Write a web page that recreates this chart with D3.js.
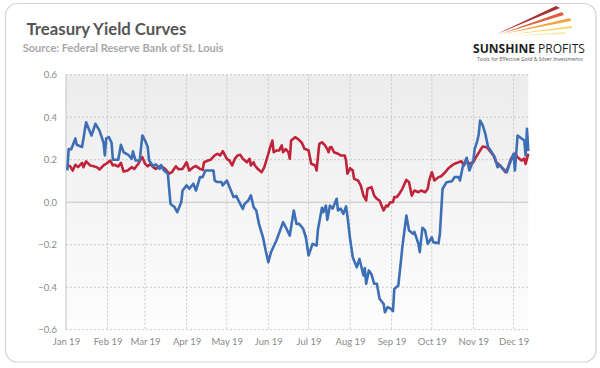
<!DOCTYPE html>
<html>
<head>
<meta charset="utf-8">
<script src="https://cdn.jsdelivr.net/npm/d3@7"></script>
<style>
  html, body { margin: 0; padding: 0; background: #ffffff; }
  svg { display: block; }
</style>
</head>
<body>
<div id="chart"></div>
<script>
// ---------- DATA ----------
const chartTitle = "Treasury Yield Curves";
const chartSource = "Source: Federal Reserve Bank of St. Louis";
const yTicks = [-0.6, -0.4, -0.2, 0.0, 0.2, 0.4, 0.6];

const blueDates = ["01-02","01-03","01-05","01-08","01-09","01-13","01-16","01-20","01-23","01-26","01-29","01-30","01-31",
"02-02","02-04","02-05","02-09","02-11","02-13","02-15","02-17","02-19","02-20","02-21","02-22","02-25","02-27",
"03-01","03-03","03-04","03-07","03-09","03-12","03-13","03-15","03-18","03-19","03-20","03-23","03-25","03-28","03-29",
"04-01","04-03","04-06","04-08","04-11","04-13","04-15","04-21","04-22","04-24","04-27","04-28",
"05-01","05-03","05-06","05-08","05-11","05-13","05-14","05-17","05-19","05-21","05-23","05-25","05-28","05-30",
"06-01","06-03","06-07","06-12","06-14","06-17","06-20","06-22","06-24","06-27","06-29",
"07-01","07-04","07-07","07-08","07-11","07-12","07-14","07-15","07-17","07-19","07-22","07-23","07-25","07-27","07-29","07-30",
"08-01","08-03","08-06","08-08","08-11","08-12","08-13","08-15","08-17","08-19","08-21","08-23","08-26","08-27","08-29","08-31",
"09-02","09-03","09-06","09-08","09-09","09-12","09-14","09-17","09-18","09-21","09-22","09-24","09-26","09-28",
"10-01","10-02","10-06","10-07","10-09","10-12","10-16","10-18","10-21","10-22","10-24","10-27","10-28","10-29",
"11-01","11-02","11-04","11-05","11-06","11-08","11-10","11-12","11-14","11-17","11-19","11-21","11-23","11-26","11-28",
"12-01","12-02","12-04","12-07","12-09","12-10","12-11","12-12"];
const blueValues = [0.15,0.25,0.25,0.30,0.27,0.26,0.376,0.314,0.369,0.337,0.28,0.22,0.30,
0.306,0.28,0.20,0.20,0.27,0.235,0.228,0.22,0.204,0.24,0.215,0.196,0.196,0.314,
0.29,0.26,0.196,0.17,0.178,0.157,0.175,0.15,0.134,0.063,-0.008,-0.023,-0.047,0.0,0.055,
0.079,0.063,0.087,0.055,0.118,0.118,0.149,0.149,0.102,0.095,0.095,0.079,
0.102,0.071,0.024,0.03,-0.008,-0.031,-0.01,0.008,0.032,-0.023,-0.039,-0.102,-0.165,-0.227,
-0.282,-0.235,-0.18,-0.094,-0.118,-0.157,-0.039,-0.102,-0.102,-0.125,-0.165,
-0.251,-0.196,-0.204,-0.13,-0.026,-0.047,-0.016,-0.083,-0.016,-0.03,0.016,-0.039,-0.03,-0.055,-0.02,-0.063,
-0.172,-0.259,-0.306,-0.267,-0.345,-0.31,-0.384,-0.321,-0.34,-0.384,-0.384,-0.455,-0.478,-0.518,-0.494,-0.5,
-0.513,-0.408,-0.392,-0.274,-0.212,-0.063,-0.133,-0.149,-0.14,-0.196,-0.235,-0.12,-0.133,-0.196,
-0.165,-0.188,-0.193,-0.15,0.063,0.094,0.099,0.118,0.118,0.102,0.165,0.209,0.18,0.149,
0.196,0.251,0.29,0.32,0.384,0.361,0.32,0.259,0.243,0.212,0.165,0.173,0.157,0.141,0.18,
0.228,0.149,0.314,0.30,0.29,0.22,0.345,0.24];

const redDates = ["01-02","01-04","01-06","01-08","01-10","01-13","01-14","01-16","01-19","01-21","01-24","01-26","01-29","01-31",
"02-03","02-05","02-06","02-09","02-11","02-13","02-16","02-19","02-21","02-24","02-26","02-27",
"03-01","03-03","03-05","03-07","03-09","03-12","03-14","03-16","03-19","03-21","03-24","03-26","03-29",
"04-01","04-03","04-06","04-08","04-11","04-13","04-14","04-17","04-19","04-22","04-24","04-26","04-28",
"05-01","05-03","05-05","05-07","05-09","05-11","05-13","05-16","05-18","05-19","05-21","05-22","05-24","05-27","05-29",
"06-01","06-02","06-04","06-05","06-07","06-09","06-11","06-12","06-14","06-16","06-17","06-18","06-21","06-23","06-26","06-28",
"07-01","07-03","07-06","07-07","07-09","07-11","07-13","07-15","07-16","07-17","07-18","07-20","07-23","07-25","07-28","07-29","07-30",
"08-01","08-03","08-04","08-07","08-09","08-11","08-13","08-14","08-17","08-19","08-21","08-23","08-26","08-28","08-29","08-31",
"09-02","09-03","09-05","09-07","09-09","09-12","09-14","09-16","09-18","09-21","09-23","09-26","09-28","09-29",
"10-01","10-03","10-06","10-08","10-11","10-13","10-16","10-18","10-21","10-23","10-25","10-27","10-29",
"11-01","11-03","11-06","11-08","11-11","11-13","11-16","11-18","11-21","11-23","11-25","11-27","11-29",
"12-02","12-04","12-07","12-09","12-10","12-12"];
const redValues = [0.173,0.17,0.149,0.176,0.165,0.185,0.165,0.192,0.173,0.17,0.165,0.154,0.173,0.181,
0.196,0.173,0.176,0.168,0.185,0.144,0.149,0.165,0.157,0.181,0.204,0.212,
0.181,0.169,0.18,0.165,0.157,0.169,0.165,0.157,0.134,0.141,0.169,0.155,0.157,
0.188,0.149,0.165,0.17,0.157,0.152,0.188,0.196,0.20,0.22,0.228,0.22,0.24,
0.204,0.196,0.173,0.204,0.22,0.223,0.204,0.188,0.204,0.173,0.188,0.173,0.157,0.141,0.165,
0.228,0.251,0.29,0.235,0.243,0.243,0.267,0.235,0.25,0.235,0.204,0.29,0.306,0.298,0.28,0.251,
0.245,0.181,0.173,0.149,0.275,0.282,0.27,0.25,0.235,0.259,0.26,0.235,0.228,0.22,0.22,0.196,0.134,
0.16,0.149,0.11,0.102,0.078,0.031,0.008,0.063,0.071,0.031,0.016,0.008,-0.039,-0.016,-0.02,0.0,
0.0,0.024,0.025,0.042,0.063,0.105,0.094,0.031,0.055,0.047,0.055,0.047,0.063,0.102,
0.141,0.102,0.118,0.122,0.141,0.157,0.173,0.181,0.188,0.193,0.173,0.196,0.181,
0.188,0.212,0.243,0.262,0.259,0.243,0.22,0.188,0.173,0.157,0.141,0.165,0.204,
0.228,0.212,0.196,0.205,0.18,0.228];

// ---------- LAYOUT ----------
const W = 600, H = 368;
const plot = { left: 66, right: 528.3, top: 74.7, bottom: 329.7 };
const blueColor = "#3d6fb6";
const redColor = "#c0233a";

const parse = d3.timeParse("%Y-%m-%d");
const blueData = blueDates.map((d, i) => ({ date: parse("2019-" + d), value: blueValues[i] }));
const redData = redDates.map((d, i) => ({ date: parse("2019-" + d), value: redValues[i] }));

const svg = d3.select("#chart").append("svg").attr("width", W).attr("height", H);

const defs = svg.append("defs");
const grad = defs.append("linearGradient").attr("id", "bg").attr("x1", 0).attr("y1", 0).attr("x2", 0).attr("y2", 1);
grad.append("stop").attr("offset", "0%").attr("stop-color", "#ececec");
grad.append("stop").attr("offset", "100%").attr("stop-color", "#fdfdfd");

// card
svg.append("rect").attr("x", 5.5).attr("y", 3.5).attr("width", 590.5).attr("height", 358.5)
  .attr("rx", 12).attr("fill", "#fff").attr("stroke", "#d4d4d4").attr("stroke-width", 1.2);

// scales
const x = d3.scaleTime().domain([parse("2019-01-01"), parse("2019-12-12")]).range([plot.left, plot.right]);
const y = d3.scaleLinear().domain([-0.6, 0.6]).range([plot.bottom, plot.top]);

// plot background
svg.append("rect").attr("x", plot.left).attr("y", plot.top)
  .attr("width", plot.right - plot.left).attr("height", plot.bottom - plot.top)
  .attr("fill", "url(#bg)");

// grid horizontal
const months = d3.timeMonth.range(parse("2019-01-01"), parse("2019-12-12"));
svg.append("g").selectAll("line").data(yTicks).join("line")
  .attr("x1", plot.left).attr("x2", plot.right)
  .attr("y1", d => y(d)).attr("y2", d => y(d))
  .attr("stroke", d => d === 0 ? "#c4c4c4" : "#c8c8c8")
  .attr("stroke-width", 1)
  .attr("stroke-dasharray", d => d === 0 ? null : "2,2");
// grid vertical
svg.append("g").selectAll("line").data(months.slice(1)).join("line")
  .attr("x1", d => x(d)).attr("x2", d => x(d))
  .attr("y1", plot.top).attr("y2", plot.bottom)
  .attr("stroke", "#c8c8c8").attr("stroke-width", 1).attr("stroke-dasharray", "2,2");
// left axis line
svg.append("line").attr("x1", plot.left).attr("x2", plot.left).attr("y1", plot.top).attr("y2", plot.bottom)
  .attr("stroke", "#c4c4c4").attr("stroke-width", 1);

// y labels
const yAxis = d3.axisLeft(y).tickValues(yTicks).tickFormat(d3.format(".1f")).tickSize(0).tickPadding(9);
const gy = svg.append("g").attr("transform", `translate(${plot.left},0)`).call(yAxis);
gy.select(".domain").remove();
gy.selectAll("text").attr("fill", "#8a8a8a").attr("font-family", "Lato, 'Open Sans', sans-serif").attr("font-size", 9.5);

// x labels
const xAxis = d3.axisBottom(x).tickValues(months).tickFormat(d3.timeFormat("%b %y")).tickSize(0).tickPadding(9);
const gx = svg.append("g").attr("transform", `translate(0,${plot.bottom})`).call(xAxis);
gx.select(".domain").remove();
gx.selectAll("text").attr("fill", "#8a8a8a").attr("font-family", "Lato, 'Open Sans', sans-serif").attr("font-size", 9.5);

// lines
const line = d3.line().x(d => x(d.date)).y(d => y(d.value)).curve(d3.curveLinear);
svg.append("path").datum(redData).attr("d", line).attr("fill", "none")
  .attr("stroke", redColor).attr("stroke-width", 2.6).attr("stroke-linejoin", "round");
svg.append("path").datum(blueData).attr("d", line).attr("fill", "none")
  .attr("stroke", blueColor).attr("stroke-width", 2.6).attr("stroke-linejoin", "round");

// title
function fitText(sel, targetWidth) {
  const w = sel.node().getComputedTextLength();
  const fs = parseFloat(sel.attr("font-size"));
  sel.attr("font-size", fs * targetWidth / w);
}
const title = svg.append("text").attr("x", 26.5).attr("y", 35).text(chartTitle)
  .attr("font-family", "Lato, sans-serif").attr("font-weight", "bold").attr("font-size", 15).attr("fill", "#555");
fitText(title, 160);
const sub = svg.append("text").attr("x", 22.7).attr("y", 51.5).text(chartSource)
  .attr("font-family", "Lato, sans-serif").attr("font-weight", "bold").attr("font-size", 10).attr("fill", "#a8a8a8");
fitText(sub, 201);

// logo
const logo = svg.append("g");
const streaks = [
  { pts: [[497, 34], [556, 6], [560, 8]], c: "#9c1c1c" },
  { pts: [[500, 34], [562, 12], [564, 15]], c: "#d9502a" },
  { pts: [[503, 34], [570, 18], [571, 21]], c: "#ef9a2c" },
  { pts: [[506, 35], [572, 26], [572, 28]], c: "#f5cf55" },
  { pts: [[509, 36], [566, 32], [565, 34]], c: "#f8e7a0" }
];
logo.selectAll("polygon").data(streaks).join("polygon")
  .attr("points", d => d.pts.map(p => p.join(",")).join(" "))
  .attr("fill", d => d.c).attr("opacity", 0.9);
const lt = logo.append("text").attr("x", 473).attr("y", 52.5)
  .attr("font-family", "'Open Sans', sans-serif").attr("font-size", 10).attr("fill", "#1f1f1f");
lt.append("tspan").attr("font-weight", "bold").text("SUNSHINE ");
lt.append("tspan").attr("font-weight", "normal").text("PROFITS");
fitText(lt, 112);
const tag = logo.append("text").attr("x", 477).attr("y", 61)
  .attr("font-family", "'Open Sans', sans-serif").attr("font-size", 4.5).attr("fill", "#555")
  .text("Tools for Effective Gold & Silver Investments");
fitText(tag, 106);
</script>
</body>
</html>
